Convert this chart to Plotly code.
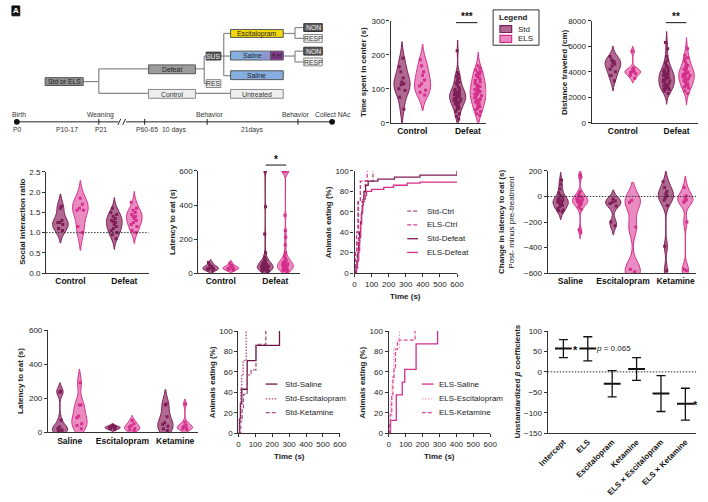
import plotly.graph_objects as go

# ---------------- data ----------------
groups2 = ["Control", "Defeat"]
drugs = ["Saline", "Escitalopram", "Ketamine"]

# B: time spent in center (s)
center_std_ctrl = [190, 165, 150, 132, 120, 115, 112, 100, 95, 75, 40]
center_els_ctrl = [185, 168, 150, 140, 126, 115, 108, 96, 90, 82]
center_std_def = [212, 148, 142, 137, 131, 126, 119, 117, 112, 106, 101, 99, 96, 94, 91, 89, 87, 86, 84, 83,
                  81, 79, 78, 76, 74, 72, 70, 69, 67, 65, 63, 61, 58, 56, 53, 50, 47, 43, 39, 33, 27, 19, 11]
center_els_def = [168, 160, 155, 150, 147, 143, 140, 136, 132, 128, 124, 120, 117, 113, 110, 107, 104, 101, 98,
                  96, 94, 92, 90, 88, 85, 83, 80, 77, 74, 71, 68, 65, 62, 58, 55, 51, 47, 43, 38, 33, 27, 22]

# C: distance traveled (cm)
dist_std_ctrl = [5200, 4950, 4800, 4750, 4600, 4450, 4200, 4000, 3700, 3300]
dist_els_ctrl = [5600, 4300, 4150, 4050, 4000, 3950, 3850, 3700, 3500]
dist_std_def = [6300, 5800, 5200, 4900, 4700, 4500, 4400, 4300, 4200, 4100, 4000, 3950, 3900, 3850, 3800, 3750,
                3700, 3650, 3600, 3550, 3500, 3450, 3400, 3350, 3300, 3250, 3200, 3100, 3000, 2950, 2900, 2850,
                2800, 2750, 2720, 2700, 2650, 2600, 2500, 2300]
dist_els_def = [5800, 5300, 5100, 5000, 4800, 4600, 4500, 4400, 4300, 4200, 4100, 4000, 3950, 3900, 3850, 3800,
                3750, 3700, 3650, 3600, 3500, 3450, 3400, 3300, 3200, 3100, 3000, 2950, 2900, 2800, 2700, 2500, 2300]

# D: social interaction ratio
si_std_ctrl = [1.65, 1.6, 1.3, 1.25, 1.25, 1.2, 1.1, 1.05]
si_els_ctrl = [1.85, 1.7, 1.6, 1.55, 1.55, 1.15, 1.0]
si_std_def = [1.6, 1.5, 1.45, 1.4, 1.35, 1.3, 1.28, 1.25, 1.2, 1.15, 1.1, 1.05, 1.0, 0.95, 0.85]
si_els_def = [1.75, 1.6, 1.55, 1.5, 1.45, 1.4, 1.4, 1.35, 1.3, 1.25, 1.2, 1.15, 1.05, 1.0]

# E: latency to eat (s)
lat_std_ctrl = [62, 48, 40, 36, 32, 28, 25, 22, 18, 12]
lat_els_ctrl = [58, 44, 38, 34, 30, 27, 24, 20, 15]
lat_std_def = [600, 600, 390, 230, 120, 95, 85, 78, 72, 68, 64, 60, 57, 54, 51, 48, 46, 44, 42, 40,
               38, 36, 34, 32, 30, 28, 26, 24, 22, 20, 18, 16, 14, 12, 10]
lat_els_def = [600, 600, 600, 600, 600, 600, 340, 250, 210, 165, 120, 100, 88, 80, 75, 70, 66, 62,
               58, 55, 52, 49, 46, 43, 40, 37, 34, 31, 28, 25, 22, 19, 16, 13, 10]

# F: animals eating (%) vs time (s)
std_ctrl_t = [0, 8, 15, 23, 63, 108]
std_ctrl_p = [0, 10, 30, 70, 90, 100]
els_ctrl_t = [0, 5, 12, 20, 34, 74]
els_ctrl_p = [0, 20, 40, 70, 90, 100]
std_def_t = [0, 10, 15, 20, 25, 30, 35, 40, 45, 50, 55, 65, 80, 137, 234, 383, 600]
std_def_p = [0, 5, 12, 20, 30, 40, 50, 58, 66, 72, 80, 86, 90, 92, 94, 96, 100]
els_def_t = [0, 12, 18, 24, 30, 36, 42, 48, 55, 70, 100, 171, 228, 308, 383, 600]
els_def_p = [0, 5, 12, 22, 35, 48, 60, 70, 76, 80, 82, 84, 86, 88, 89, 89]

# G: change in latency to eat (s), post minus pre
chg_std_sal = [130, 95, 60, 30, 10, -5, -15, -25, -30, -35, -40, -45, -50, -55, -60, -70, -80, -95, -105, -110, -120]
chg_els_sal = [170, 150, 40, 25, 10, 0, -5, -10, -20, -25, -30, -35, -40, -45, -50, -55, -60, -70, -85, -100, -260, -280]
chg_std_esc = [-20, -35, -45, -55, -75, -200, -230]
chg_els_esc = [-30, -45, -240, -570, -590]
chg_std_ket = [115, 70, 40, 20, 5, -10, -30, -70, -390, -580]
chg_els_ket = [70, 5, -15, -25, -35, -45, -200, -570, -580]

# H: latency to eat after treatment (s)
trt_std_sal = [240, 235, 70, 30, 20, 15, 10, 5]
trt_els_sal = [290, 160, 160, 95, 85, 50, 40, 20]
trt_std_esc = [40, 33, 30, 27, 24, 20, 15]
trt_els_esc = [68, 50, 38, 30, 22, 15, 10]
trt_std_ket = [165, 160, 90, 55, 45, 35, 20, 10]
trt_els_ket = [165, 60, 42, 35, 30, 25, 20, 15]

# I: Std animals eating (%)
std_sal_t = [0, 6, 12, 20, 52, 104, 243]
std_sal_p = [0, 14, 29, 43, 71, 86, 100]
std_esc_t = [0, 8, 14, 20, 28, 46]
std_esc_p = [0, 14, 43, 57, 71, 100]
std_ket_t = [0, 14, 22, 30, 52, 75, 104, 162]
std_ket_p = [0, 12, 25, 38, 57, 62, 87, 100]

# J: ELS animals eating (%)
els_sal_t = [0, 11, 45, 80, 95, 162, 289]
els_sal_p = [0, 12.5, 37.5, 50, 62.5, 87.5, 100]
els_esc_t = [0, 5, 12, 20, 30, 64]
els_esc_p = [0, 17, 33, 50, 83, 100]
els_ket_t = [0, 5, 10, 18, 25, 32, 40, 52, 156]
els_ket_p = [0, 9, 18, 36, 55, 64, 82, 91, 100]

# K: regression coefficients
coef_names = ["Intercept", "ELS", "Escitalopram", "Ketamine", "ELS × Escitalopram", "ELS × Ketamine"]
coef_mean = [57, 57, -29, 7, -53, -78]
coef_low = [35, 27, -61, -21, -97, -118]
coef_high = [79, 86, 3, 35, -9, -40]

# ---------------- style ----------------
W, H = 708, 502
FONT = "Liberation Sans"
STD_EDGE, STD_FILL = "#7e1e57", "#b06a92"
ELS_EDGE, ELS_FILL = "#d42f8a", "#ea8cc1"
AX = "#333333"
DOT = "1.5px,1.5px"
DASH = "4px,2px"
GROUP_OFFSET = {"Std": -0.185, "ELS": 0.185}   # Std left / ELS right of each category
VIOLIN_WIDTH = 0.29

# kernel bandwidths for a few violins with long tails (smoothing choice only)
BW = {(4, "Std", "Defeat"): 18, (4, "ELS", "Defeat"): 18,
      (6, "Std", "Escitalopram"): 35, (6, "ELS", "Escitalopram"): 70,
      (6, "Std", "Ketamine"): 45, (6, "ELS", "Ketamine"): 45,
      (7, "Std", "Saline"): 25, (7, "ELS", "Saline"): 40}


def px(x):
    return x / W


def py(y):
    return 1 - y / H


def dom_x(a, b):
    return [a / W, b / W]


def dom_y(top, bot):
    return [1 - bot / H, 1 - top / H]


def sfx(n):
    return "" if n == 1 else str(n)


fig = go.Figure()


def add_violins(n, cats, std_lists, els_lists):
    for name, lists, edge, fill in (("Std", std_lists, STD_EDGE, STD_FILL), ("ELS", els_lists, ELS_EDGE, ELS_FILL)):
        for i, (c, v) in enumerate(zip(cats, lists)):
            kw = {}
            if (n, name, c) in BW:
                kw["bandwidth"] = BW[(n, name, c)]
            pos = i + GROUP_OFFSET[name]
            fig.add_trace(go.Violin(
                x=[pos] * len(v), y=v, name=name + " " + c, xaxis="x" + sfx(n), yaxis="y" + sfx(n),
                scalegroup="s%d%s%s" % (n, name, c), width=VIOLIN_WIDTH,
                line=dict(color=edge, width=1), fillcolor=fill, opacity=1,
                points="all", pointpos=0, jitter=0.5,
                marker=dict(symbol="square", size=3, color=edge),
                spanmode="soft", scalemode="width", showlegend=False, hoverinfo="skip", **kw))


add_violins(1, groups2, [center_std_ctrl, center_std_def], [center_els_ctrl, center_els_def])
add_violins(2, groups2, [dist_std_ctrl, dist_std_def], [dist_els_ctrl, dist_els_def])
add_violins(3, groups2, [si_std_ctrl, si_std_def], [si_els_ctrl, si_els_def])
add_violins(4, groups2, [lat_std_ctrl, lat_std_def], [lat_els_ctrl, lat_els_def])
add_violins(6, drugs, [chg_std_sal, chg_std_esc, chg_std_ket], [chg_els_sal, chg_els_esc, chg_els_ket])
add_violins(7, drugs, [trt_std_sal, trt_std_esc, trt_std_ket], [trt_els_sal, trt_els_esc, trt_els_ket])


def add_curve(n, t, p, color, dash):
    fig.add_trace(go.Scatter(x=t, y=p, mode="lines", line=dict(color=color, width=1.3, dash=dash, shape="hv"),
                             xaxis="x" + str(n), yaxis="y" + str(n), showlegend=False, hoverinfo="skip",
                             cliponaxis=False))


F_CURVES = [("Std-Ctrl", std_ctrl_t, std_ctrl_p, "#a9517f", DASH),
            ("ELS-Ctrl", els_ctrl_t, els_ctrl_p, "#d63c93", DASH),
            ("Std-Defeat", std_def_t, std_def_p, "#7e1e57", "solid"),
            ("ELS-Defeat", els_def_t, els_def_p, "#d42f8a", "solid")]
I_CURVES = [("Std-Saline", std_sal_t, std_sal_p, "#6b1446", "solid"),
            ("Std-Escitalopram", std_esc_t, std_esc_p, "#b0497f", DOT),
            ("Std-Ketamine", std_ket_t, std_ket_p, "#a45282", DASH)]
J_CURVES = [("ELS-Saline", els_sal_t, els_sal_p, "#d42f8a", "solid"),
            ("ELS-Escitalopram", els_esc_t, els_esc_p, "#f09fc8", DOT),
            ("ELS-Ketamine", els_ket_t, els_ket_p, "#e0509c", DASH)]
for n, curves in ((5, F_CURVES), (8, I_CURVES), (9, J_CURVES)):
    for _, t, p, c, d in curves:
        add_curve(n, t, p, c, d)

fig.add_trace(go.Scatter(
    x=coef_names, y=coef_mean, mode="markers", xaxis="x10", yaxis="y10", showlegend=False, hoverinfo="skip",
    marker=dict(symbol="line-ew", size=12, line=dict(width=2, color="#111")),
    error_y=dict(type="data", symmetric=False,
                 array=[h - m for h, m in zip(coef_high, coef_mean)],
                 arrayminus=[m - l for m, l in zip(coef_mean, coef_low)],
                 color="#111", thickness=1.3, width=4.5)))

# ---------------- axes ----------------
tickfont = dict(family=FONT, size=8, color="#222")
catfont = dict(family=FONT, size=8.5, color="#111", weight="bold")


def yax(n, top, bot, rng, dtick, fmt=None):
    d = dict(domain=dom_y(top, bot), range=rng, dtick=dtick, tick0=0, showline=True, linecolor=AX, linewidth=1.3,
             ticks="outside", ticklen=3, tickwidth=1.2, tickcolor=AX, showgrid=False, zeroline=False,
             tickfont=tickfont, anchor="x" + sfx(n), fixedrange=True)
    if fmt:
        d["tickformat"] = fmt
    return d


def xgrp(n, left, right, rng, cats):
    return dict(domain=dom_x(left, right), range=rng, type="linear", showline=True, linecolor=AX,
                linewidth=1.3, ticks="", showgrid=False, zeroline=False, tickfont=catfont,
                tickmode="array", tickvals=list(range(len(cats))), ticktext=cats,
                anchor="y" + sfx(n), fixedrange=True)


def xcat(n, left, right, rng, font, angle=0):
    return dict(domain=dom_x(left, right), range=rng, type="category", showline=True, linecolor=AX,
                linewidth=1.3, ticks="", showgrid=False, zeroline=False, tickfont=font, tickangle=angle,
                anchor="y" + sfx(n), fixedrange=True)


def xnum(n, left, right):
    return dict(domain=dom_x(left, right), range=[0, 600], dtick=100, tick0=0, showline=True, linecolor=AX,
                linewidth=1.3, ticks="outside", ticklen=3, tickwidth=1.2, tickcolor=AX, showgrid=False,
                zeroline=False, tickfont=tickfont, anchor="y" + str(n), fixedrange=True)


layout = dict(
    width=W, height=H, autosize=False, margin=dict(l=0, r=0, t=0, b=0, pad=0),
    paper_bgcolor="white", plot_bgcolor="white", showlegend=False,
    violinmode="overlay",
    font=dict(family=FONT, size=8, color="#222"),
    xaxis=xgrp(1, 390, 488, [-0.39, 1.33], groups2), yaxis=yax(1, 17, 121, [0, 300], 100),
    xaxis2=xgrp(2, 596, 705, [-0.58, 1.4], groups2), yaxis2=yax(2, 17, 121, [0, 8000], 2000),
    xaxis3=xgrp(3, 37, 142, [-0.45, 1.45], groups2), yaxis3=yax(3, 171, 274, [0, 2.5], 0.5, ".1f"),
    xaxis4=xgrp(4, 193, 297, [-0.41, 1.45], groups2), yaxis4=yax(4, 170, 274, [0, 600], 200),
    xaxis5=xnum(5, 353, 458), yaxis5=yax(5, 170, 274, [0, 100], 20),
    xaxis6=xgrp(6, 551, 703, [-0.43, 2.39], drugs), yaxis6=yax(6, 170, 274, [-600, 200], 200),
    xaxis7=xgrp(7, 39, 193, [-0.41, 2.44], drugs), yaxis7=yax(7, 332, 436, [0, 600], 200),
    xaxis8=xnum(8, 234, 338), yaxis8=yax(8, 333, 437, [0, 100], 20),
    xaxis9=xnum(9, 388, 492), yaxis9=yax(9, 333, 437, [0, 100], 20),
    xaxis10=xcat(10, 551, 703, [-0.64, 5.44], dict(family=FONT, size=8, color="#111", weight="bold"), angle=-45),
    yaxis10=yax(10, 333, 437, [-150, 100], 50),
)
fig.update_layout(**layout)

shapes = []
ann = []


def text(x, y, s, size=8, bold=False, color="#222", angle=0, xanchor="center"):
    f = dict(family=FONT, size=size, color=color)
    if bold:
        f["weight"] = "bold"
    ann.append(dict(x=px(x), y=py(y), xref="paper", yref="paper", text=s, showarrow=False, font=f,
                    textangle=angle, xanchor=xanchor, yanchor="middle"))


def line(x0, y0, x1, y1, color="#888", width=1.2, dash="solid"):
    shapes.append(dict(type="line", xref="paper", yref="paper", x0=px(x0), y0=py(y0), x1=px(x1), y1=py(y1),
                       line=dict(color=color, width=width, dash=dash)))


def rect(x0, y0, x1, y1, fill, edge="#555", width=1):
    shapes.append(dict(type="rect", xref="paper", yref="paper", x0=px(x0), y0=py(y1), x1=px(x1), y1=py(y0),
                       fillcolor=fill, line=dict(color=edge, width=width)))


# ---------------- panel A schematic ----------------
rect(2, 2, 10, 12, "#111", "#111")
text(6, 7, "A", size=8, bold=True, color="white")

for seg in [(75, 79, 91, 79), (91, 66, 91, 91), (91, 66, 142, 66), (91, 91, 142, 91),
            (190, 66, 199, 66), (199, 53, 199, 81), (199, 53, 201, 53), (199, 81, 201, 81),
            (190, 91, 226, 91), (216, 53, 219, 53), (219, 30, 219, 73), (219, 30, 226, 30),
            (219, 53, 226, 53), (219, 73, 226, 73), (280, 30, 292, 30), (292, 24, 292, 35),
            (292, 24, 301, 24), (292, 35, 301, 35), (280, 53, 292, 53), (292, 48, 292, 59),
            (292, 48, 301, 48), (292, 59, 301, 59)]:
    line(*seg)

boxes = [
    (36, 75, 75, 83, "#8f8f8f", "#555", "Std or ELS", "#222"),
    (142, 62, 190, 71, "#9b9b9b", "#555", "Defeat", "#222"),
    (142, 87, 190, 96, "#eeeeee", "#888", "Control", "#333"),
    (201, 49, 216, 57, "#555555", "#333", "SUS", "#eeeeee"),
    (201, 77, 216, 85, "#eeeeee", "#888", "RES", "#333"),
    (226, 26, 280, 34, "#f4d80c", "#555", "Escitalopram", "#222"),
    (226, 68, 280, 77, "#86aee0", "#555", "Saline", "#222"),
    (226, 87, 280, 96, "#eeeeee", "#888", "Untreated", "#333"),
    (301, 20, 320, 28, "#5a5a5a", "#333", "NON", "#eeeeee"),
    (301, 31, 320, 39, "#f2f2f2", "#888", "RESP", "#333"),
    (301, 44, 320, 52, "#5a5a5a", "#333", "NON", "#eeeeee"),
    (301, 55, 320, 63, "#f2f2f2", "#888", "RESP", "#333"),
]
for x0, y0, x1, y1, fill, edge, label, tc in boxes:
    rect(x0, y0, x1, y1, fill, edge)
    text((x0 + x1) / 2, (y0 + y1) / 2 + 0.3, label, size=6.8, color=tc)

rect(226, 48, 267, 57, "#86aee0", "#555")
rect(258, 48.5, 267, 56.5, "#8f94d0", "#8f94d0", 0)
rect(267, 48, 280, 57, "#8a3a96", "#555")
text(248, 52.8, "Saline", size=6.8)
text(273.5, 52.8, "Ket", size=6.5, color="#222")

# timeline
line(7, 120, 330, 120, color="#222", width=1)
for x in (91, 138, 202, 295):
    line(x, 117, x, 123, color="#222", width=1)
shapes.append(dict(type="rect", xref="paper", yref="paper", x0=px(111), x1=px(119), y0=py(123), y1=py(117),
                   fillcolor="white", line=dict(width=0)))
line(110.5, 123, 113.5, 117, color="#222", width=1)
line(115.5, 123, 118.5, 117, color="#222", width=1)
for cx in (7, 330):
    shapes.append(dict(type="circle", xref="paper", yref="paper", x0=px(cx - 3), x1=px(cx + 3),
                       y0=py(123), y1=py(117), fillcolor="#111", line=dict(color="#111", width=0)))
for x, s in ((9, "Birth"), (93, "Weaning"), (205, "Behavior"), (293, "Behavior"), (331, "Collect NAc")):
    text(x, 113, s, size=6.8, color="#333")
for x, s in ((8, "P0"), (58, "P10-17"), (93, "P21"), (140, "P60-65"), (168, "10 days"), (248, "21days")):
    text(x, 128, s, size=6.8, color="#333")

# ---------------- axis titles ----------------
text(362, 69, "Time spent in center (s)", bold=True, angle=-90)
text(568, 69, "Distance traveled (cm)", bold=True, angle=-90)
text(12, 222, "Social interaction ratio", bold=True, angle=-90)
text(166, 222, "Latency to eat (s)", bold=True, angle=-90)
text(326, 222, "Animals eating (%)", bold=True, angle=-90)
text(405, 298, "Time (s)", bold=True)
text(503, 222, "Change in latency to eat (s)", bold=True, angle=-90)
text(513, 222, "Post- minus pre-treatment", angle=-90)
text(10, 384, "Latency to eat (s)", bold=True, angle=-90)
text(207, 385, "Animals eating (%)", bold=True, angle=-90)
text(286, 461, "Time (s)", bold=True)
text(361, 385, "Animals eating (%)", bold=True, angle=-90)
text(440, 461, "Time (s)", bold=True)
text(520, 385, "Unstandardized <i>β</i> coefficients", bold=True, angle=-90)

# ---------------- legend in B ----------------
rect(495, 6, 542, 42, "white", "#333", 1)
text(516, 14, "Legend", size=8, bold=True)
rect(502, 22, 514, 29, STD_FILL, STD_EDGE, 1.2)
rect(502, 32, 514, 39, ELS_FILL, ELS_EDGE, 1.2)
text(518, 25.5, "Std", size=8, xanchor="left")
text(518, 35.5, "ELS", size=8, xanchor="left")

# ---------------- line legends ----------------
for (x0, x1, xt, ys, curves) in ((407, 418, 425, (211, 225, 239, 253), F_CURVES),
                                 (262, 274, 280, (387, 402, 416), I_CURVES),
                                 (422, 434, 438, (387, 402, 416), J_CURVES)):
    for yy, (name, _, _, c, d) in zip(ys, curves):
        line(x0, yy, x1, yy, color=c, width=1.3, dash=d)
        text(xt, yy, name, size=8, xanchor="left", color="#222")

# ---------------- significance ----------------
line(457, 19, 479, 19, color="#111", width=1)
text(468, 12.5, "***", size=10, bold=True, color="#111")
line(672, 19, 693, 19, color="#111", width=1)
text(682.5, 12.5, "**", size=10, bold=True, color="#111")
line(262, 164, 283, 164, color="#111", width=1)
text(272.5, 158, "*", size=10, bold=True, color="#111")

for xr, yr, yv in (("x3 domain", "y3", 1), ("x6 domain", "y6", 0), ("x10 domain", "y10", 0)):
    shapes.append(dict(type="line", xref=xr, yref=yr, x0=0, x1=1, y0=yv, y1=yv,
                       line=dict(color="#333", width=1, dash=DOT)))

ann.append(dict(x=0.32, y=coef_mean[0] - 3, xref="x10", yref="y10", text="*", showarrow=False,
                font=dict(family=FONT, size=11, color="#111", weight="bold"), xanchor="left"))
ann.append(dict(x=1.25, y=coef_mean[1], xref="x10", yref="y10", text="<i>p</i> = 0.065", showarrow=False,
                font=dict(family=FONT, size=8, color="#222"), xanchor="left"))
ann.append(dict(x=5.24, y=coef_mean[5] - 3, xref="x10", yref="y10", text="*", showarrow=False,
                font=dict(family=FONT, size=11, color="#111", weight="bold"), xanchor="left"))

fig.update_layout(shapes=shapes, annotations=ann)
fig.write_html("out.html", config={"displayModeBar": False},
               post_script="document.body.style.margin='0';document.body.style.padding='0';")
